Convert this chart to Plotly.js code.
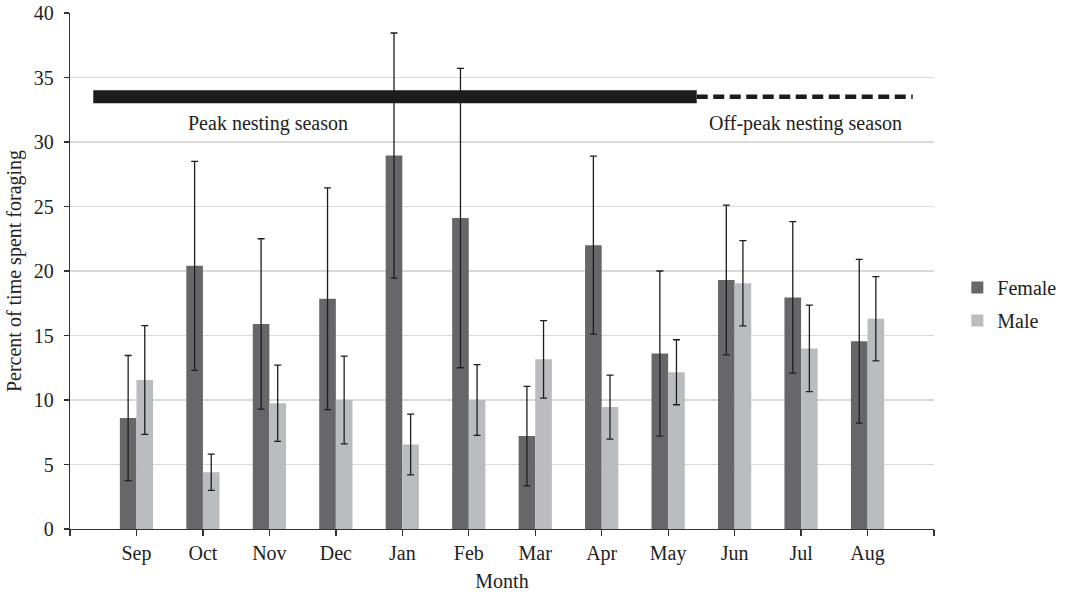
<!DOCTYPE html>
<html>
<head>
<meta charset="utf-8">
<script src="https://cdn.plot.ly/plotly-3.0.1.min.js"></script>
<style>
html,body{margin:0;padding:0;background:#fff;}
#chart{width:1065px;height:595px;}
#chart svg text{font-family:"Liberation Serif","Times New Roman",serif !important;}
</style>
</head>
<body>
<div id="chart"></div>
<script>
const months = ['Sep','Oct','Nov','Dec','Jan','Feb','Mar','Apr','May','Jun','Jul','Aug'];
const femaleMean = [8.6, 20.4, 15.9, 17.85, 28.95, 24.1, 7.2, 22.0, 13.6, 19.3, 17.95, 14.55];
const femaleErr  = [4.85, 8.1, 6.6, 8.6, 9.5, 11.6, 3.85, 6.9, 6.4, 5.8, 5.87, 6.35];
const maleMean   = [11.55, 4.4, 9.75, 10.0, 6.55, 10.0, 13.15, 9.45, 12.15, 19.05, 14.0, 16.3];
const maleErr    = [4.22, 1.4, 2.96, 3.4, 2.35, 2.74, 3.0, 2.48, 2.52, 3.3, 3.35, 3.27];
const seasonLabels = ['Peak nesting season', 'Off-peak nesting season'];
const seasonLabelX = [1.98, 10.06];
const seasonLabelY = 31.45;
const seasonLevel = 33.5;
const peakSpan = [-0.65, 8.43];
const offPeakSpan = [8.43, 11.68];

const FONT = 'Liberation Serif, Times New Roman, serif';
const xIdx = months.map((m, i) => i);
const tickVals = [-1].concat(xIdx, [12]);
const tickText = [''].concat(months, ['']);

const errStyle = {type: 'data', visible: true, color: '#1e1e1e', thickness: 1.3, width: 3.5};

const traces = [
  {type: 'bar', name: 'Female', legendgroup: 'f', x: xIdx, y: femaleMean,
   error_y: Object.assign({array: femaleErr}, errStyle),
   marker: {color: '#67676a'}},
  {type: 'bar', name: 'Male', legendgroup: 'm', x: xIdx, y: maleMean,
   error_y: Object.assign({array: maleErr}, errStyle),
   marker: {color: '#bbbcbf'}}
];

const layout = {
  width: 1065, height: 595,
  margin: {l: 69.5, r: 131, t: 12.7, b: 66.3, autoexpand: false},
  paper_bgcolor: '#fff', plot_bgcolor: '#fff',
  font: {family: FONT, size: 20, color: '#222'},
  barmode: 'group', bargap: 0.5, bargroupgap: 0,
  showlegend: true,
  legend: {x: 1.027, y: 0.436, xanchor: 'left', yanchor: 'middle',
           font: {family: FONT, size: 20, color: '#222'}, tracegroupgap: 4,
           traceorder: 'grouped', bgcolor: 'rgba(0,0,0,0)'},
  xaxis: {range: [-1, 12], tickmode: 'array', tickvals: tickVals, ticktext: tickText,
          ticks: 'outside', ticklen: 6, tickcolor: '#333', tickwidth: 1.3,
          showline: true, linecolor: '#333', linewidth: 1.3, showgrid: false, zeroline: false,
          tickfont: {family: FONT, size: 20, color: '#222'},
          title: {text: 'Month', font: {family: FONT, size: 20, color: '#222'}, standoff: 9}},
  yaxis: {range: [0, 40], tickvals: [0,5,10,15,20,25,30,35,40],
          ticks: 'outside', ticklen: 5, tickcolor: '#333', tickwidth: 1.3, ticklabelstandoff: 6,
          showline: true, linecolor: '#333', linewidth: 1.3,
          showgrid: true, gridcolor: '#d9d9d9', gridwidth: 1.3, zeroline: false,
          tickfont: {family: FONT, size: 20, color: '#222'},
          title: {text: 'Percent of time spent foraging', font: {family: FONT, size: 20, color: '#222'}, standoff: 6}},
  shapes: [
    {type: 'line', xref: 'x', yref: 'y', x0: peakSpan[0], x1: peakSpan[1], y0: seasonLevel, y1: seasonLevel,
     line: {color: '#1c1c1c', width: 13}},
    {type: 'line', xref: 'x', yref: 'y', x0: offPeakSpan[0], x1: offPeakSpan[1], y0: seasonLevel, y1: seasonLevel,
     line: {color: '#1c1c1c', width: 4.5, dash: '11px,5.5px'}}
  ],
  annotations: [
    {xref: 'x', yref: 'y', x: seasonLabelX[0], y: seasonLabelY, text: seasonLabels[0],
     showarrow: false, font: {family: FONT, size: 20, color: '#222'}},
    {xref: 'x', yref: 'y', x: seasonLabelX[1], y: seasonLabelY, text: seasonLabels[1],
     showarrow: false, font: {family: FONT, size: 20, color: '#222'}}
  ]
};

Plotly.newPlot('chart', traces, layout, {displayModeBar: false, staticPlot: true});
</script>
</body>
</html>
